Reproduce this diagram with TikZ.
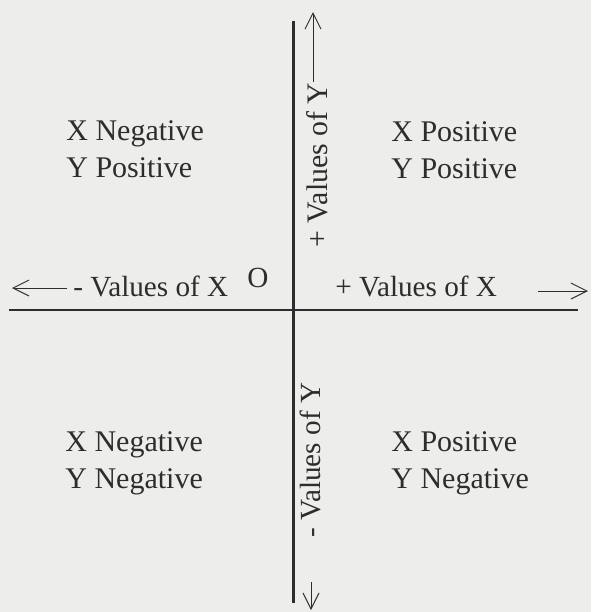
\documentclass[tikz,border=0pt]{standalone}
\usepackage{fontspec}
\setmainfont{Liberation Serif}
\usetikzlibrary{arrows.meta, positioning}
\definecolor{paper}{RGB}{237,237,235}
\definecolor{ink}{RGB}{45,45,45}

\begin{document}
\begin{tikzpicture}[x=0.5pt, y=-0.5pt]
        \tikzstyle{axisline} = [draw=ink, line width=1.2pt]
        \tikzstyle{arrow} = [draw=ink, line width=0.5pt, -{Straight Barb[length=8pt,width=8pt]}]
        \tikzstyle{quadtext} = [text=ink, align=left, inner sep=0pt, anchor=base west, font=\fontsize{15}{18.5}\selectfont]
        \tikzstyle{axistext} = [text=ink, inner sep=0pt, anchor=base west, font=\fontsize{14.6}{17}\selectfont]

        \fill[paper] (0,0) rectangle (591,612);
        \useasboundingbox (0,0) rectangle (591,612);

        % axes
        \coordinate (xmin) at (9,310);
        \coordinate (xmax) at (578,310);
        \coordinate (ymin) at (293.5,603);
        \coordinate (ymax) at (293.5,21);
        \draw [axisline] (xmin) -- (xmax);
        \draw [axisline] (ymax) -- (ymin);

        % quadrants (base = last line)
        \node (q2) [quadtext] at (66,177) {X Negative\\Y Positive};
        \node (q1) [quadtext] at (391,178) {X Positive\\Y Positive};
        \node (q3) [quadtext] at (65,488) {X Negative\\Y Negative};
        \node (q4) [quadtext] at (391,488) {X Positive\\Y Negative};

        % axis labels
        \node (negx) [axistext] at (73,296) {- Values of X};
        \node (posx) [axistext] at (335,296) {+ Values of X};
        \node (origin) [axistext, anchor=base] at (258,287) {O};
        \node (posy) [axistext, rotate=90, font=\fontsize{14.9}{17}\selectfont] at (328,248) {+ Values of Y};
        \node (negy) [axistext, rotate=90] at (321,538) {- Values of Y};

        % arrows
        \coordinate (negxtail) at (67,288);
        \coordinate (negxtip) at (12,288);
        \coordinate (posxtail) at (538,291);
        \coordinate (posxtip) at (588,291);
        \coordinate (posytail) at (313,82);
        \coordinate (posytip) at (313,12);
        \coordinate (negytail) at (311,582);
        \coordinate (negytip) at (311,610);
        \draw [arrow] (negxtail) -- (negxtip);
        \draw [arrow] (posxtail) -- (posxtip);
        \draw [arrow] (posytail) -- (posytip);
        \draw [arrow] (negytail) -- (negytip);
\end{tikzpicture}
\end{document}
